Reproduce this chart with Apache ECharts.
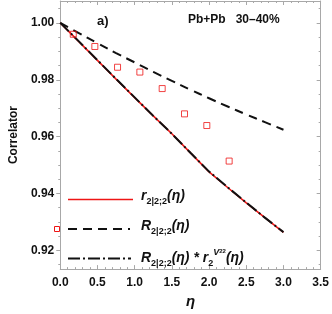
<!DOCTYPE html>
<html>
<head>
<meta charset="utf-8">
<script src="https://cdn.jsdelivr.net/npm/echarts@6/dist/echarts.min.js"></script>
<style>
html,body{margin:0;padding:0;background:#fff;}
#c{width:332px;height:314px;}
</style>
</head>
<body>
<div id="c"></div>
<script>
// ---- data ----
const etaLine = [0, 0.25, 0.5, 0.75, 1.0, 1.25, 1.5, 1.75, 2.0, 2.25, 2.5, 2.75, 3.0];
const rSolid   = [1.0, 0.9934, 0.9868, 0.9802, 0.9737, 0.9673, 0.9610, 0.9543, 0.9476, 0.9421, 0.9367, 0.9315, 0.9263];
const rDashDot = [1.0, 0.9935, 0.9869, 0.9803, 0.9738, 0.9673, 0.9610, 0.9543, 0.9477, 0.9422, 0.9368, 0.9315, 0.9264];
const RDashed  = [1.0, 0.9964, 0.9929, 0.9894, 0.9861, 0.9828, 0.9796, 0.9765, 0.9735, 0.9706, 0.9678, 0.9651, 0.9624];
const etaPts = [0.175, 0.465, 0.77, 1.07, 1.37, 1.67, 1.97, 2.27];
const ptVals = [0.9960, 0.9917, 0.9844, 0.9827, 0.9769, 0.9680, 0.9639, 0.9514];
const yMajorTicks = [0.92, 0.94, 0.96, 0.98, 1.00];
const yMinorTicks = [0.915, 0.925, 0.93, 0.935, 0.945, 0.95, 0.955, 0.965, 0.97, 0.975, 0.985, 0.99, 0.995, 1.005];
const yMin = 0.9134, yMax = 1.0077;
const xMin = 0, xMax = 3.5, xStep = 0.5;
const titleLeft = 'a)';
const titleRight = 'Pb+Pb   30–40%';
const yName = 'Correlator';
const xName = 'η';

const pairs = (xs, ys) => xs.map((x, i) => [x, ys[i]]);
const FF = 'Liberation Sans, Arial, sans-serif';
const gray = '#a8a8a8';
const lab = {color: '#111', fontWeight: 'bold', fontSize: 12, fontFamily: FF};

const chart = echarts.init(document.getElementById('c'), null, {renderer: 'canvas'});

const xBase = {type: 'value', min: xMin, max: xMax, interval: xStep,
  splitLine: {show: false},
  axisLine: {show: true, lineStyle: {color: gray, width: 1}},
  axisTick: {show: true, inside: true, length: 4, lineStyle: {color: gray}},
  minorTick: {show: true, splitNumber: 5, length: 2, lineStyle: {color: gray}}};
const yBase = {type: 'value', min: yMin, max: yMax, splitLine: {show: false}};

const rich = {
  i: {fontStyle: 'italic', fontWeight: 'bold', fontSize: 14, fontFamily: FF, lineHeight: 20, verticalAlign: 'middle', fill: '#111'},
  s: {fontWeight: 'bold', fontSize: 9, fontFamily: FF, lineHeight: 12, verticalAlign: 'bottom', fill: '#111'},
  p: {fontStyle: 'italic', fontWeight: 'bold', fontSize: 9, fontFamily: FF, lineHeight: 10, verticalAlign: 'top', fill: '#111'},
  ps: {fontWeight: 'bold', fontSize: 6, fontFamily: FF, lineHeight: 16, verticalAlign: 'top', fill: '#111'},
  pp: {fontWeight: 'bold', fontSize: 6, fontFamily: FF, lineHeight: 6, verticalAlign: 'top', fill: '#111'}
};

const legendText = (y, text) => ({type: 'text', left: 141, top: y - 10, z: 100,
  style: {text: text, rich: rich, font: 'bold italic 14px ' + FF}});

const option = {
  animation: false,
  backgroundColor: '#fff',
  grid: {left: 45, right: 9, top: 1, bottom: 37, containLabel: false},
  xAxis: [
    Object.assign({}, xBase, {position: 'bottom',
      name: xName, nameLocation: 'middle', nameGap: 19,
      nameTextStyle: {fontStyle: 'italic', fontWeight: 'bold', fontSize: 15, fontFamily: FF, color: '#111'},
      axisLabel: Object.assign({margin: 8, formatter: v => v.toFixed(1)}, lab)}),
    Object.assign({}, xBase, {position: 'top', axisLabel: {show: false}})
  ],
  yAxis: [
    Object.assign({}, yBase, {position: 'left',
      name: yName, nameLocation: 'middle', nameGap: 33, nameRotate: 90,
      nameTextStyle: {fontWeight: 'bold', fontSize: 12, fontFamily: FF, color: '#111'},
      axisLine: {show: true, lineStyle: {color: gray, width: 1}},
      axisTick: {show: true, inside: false, length: 4, customValues: yMajorTicks, lineStyle: {color: gray}},
      axisLabel: Object.assign({margin: 6, customValues: yMajorTicks, formatter: v => v.toFixed(2)}, lab)}),
    Object.assign({}, yBase, {position: 'left',
      axisLine: {show: false},
      axisTick: {show: true, inside: false, length: 2, customValues: yMinorTicks, lineStyle: {color: gray}},
      axisLabel: {show: false}}),
    Object.assign({}, yBase, {position: 'right',
      axisLine: {show: true, lineStyle: {color: gray, width: 1}},
      axisTick: {show: true, inside: true, length: 4, customValues: yMajorTicks, lineStyle: {color: gray}},
      axisLabel: {show: false}}),
    Object.assign({}, yBase, {position: 'right',
      axisLine: {show: false},
      axisTick: {show: true, inside: true, length: 2, customValues: yMinorTicks, lineStyle: {color: gray}},
      axisLabel: {show: false}})
  ],
  series: [
    {type: 'line', name: 'r', data: pairs(etaLine, rSolid), showSymbol: false, smooth: false, z: 2,
      lineStyle: {color: '#ee1515', width: 1.6}},
    {type: 'line', name: 'R', data: pairs(etaLine, RDashed), showSymbol: false, smooth: true, z: 3,
      lineStyle: {color: '#111', width: 2, type: [9, 6]}},
    {type: 'line', name: 'RR', data: pairs(etaLine, rDashDot), showSymbol: false, smooth: false, z: 4,
      lineStyle: {color: '#111', width: 2, type: [12, 3, 2, 3]}},
    {type: 'scatter', name: 'pts', data: pairs(etaPts, ptVals), symbol: 'rect', symbolSize: 6, z: 5,
      itemStyle: {color: 'rgba(255,255,255,0)', borderColor: '#ee1515', borderWidth: 1}}
  ],
  graphic: [
    {type: 'text', left: 97, top: 15, z: 100, style: {text: titleLeft, font: 'bold 13px ' + FF, fill: '#111'}},
    {type: 'text', left: 188, top: 14, z: 100, style: {text: titleRight, font: 'bold 12px ' + FF, fill: '#111'}},
    {type: 'line', z: 100, shape: {x1: 68, y1: 199.5, x2: 133, y2: 199.5}, style: {stroke: '#ee1515', lineWidth: 1.6}},
    {type: 'rect', z: 100, shape: {x: 54.5, y: 226.5, width: 5, height: 5}, style: {stroke: '#ee1515', fill: 'rgba(255,255,255,0)', lineWidth: 1}},
    {type: 'line', z: 100, shape: {x1: 68, y1: 229, x2: 130, y2: 229}, style: {stroke: '#111', lineWidth: 2, lineDash: [9, 6]}},
    {type: 'line', z: 100, shape: {x1: 68, y1: 258.5, x2: 131, y2: 258.5}, style: {stroke: '#111', lineWidth: 2, lineDash: [12, 3, 2, 3]}},
    legendText(199, '{i|r}{s|2|2;2}{i|(η)}'),
    legendText(229, '{i|R}{s|2|2;2}{i|(η)}'),
    legendText(258, '{i|R}{s|2|2;2}{i|(η) * r}{s|2}{p|V}{ps|2}{pp|2}{i|(η)}')
  ]
};
chart.setOption(option);
</script>
</body>
</html>
